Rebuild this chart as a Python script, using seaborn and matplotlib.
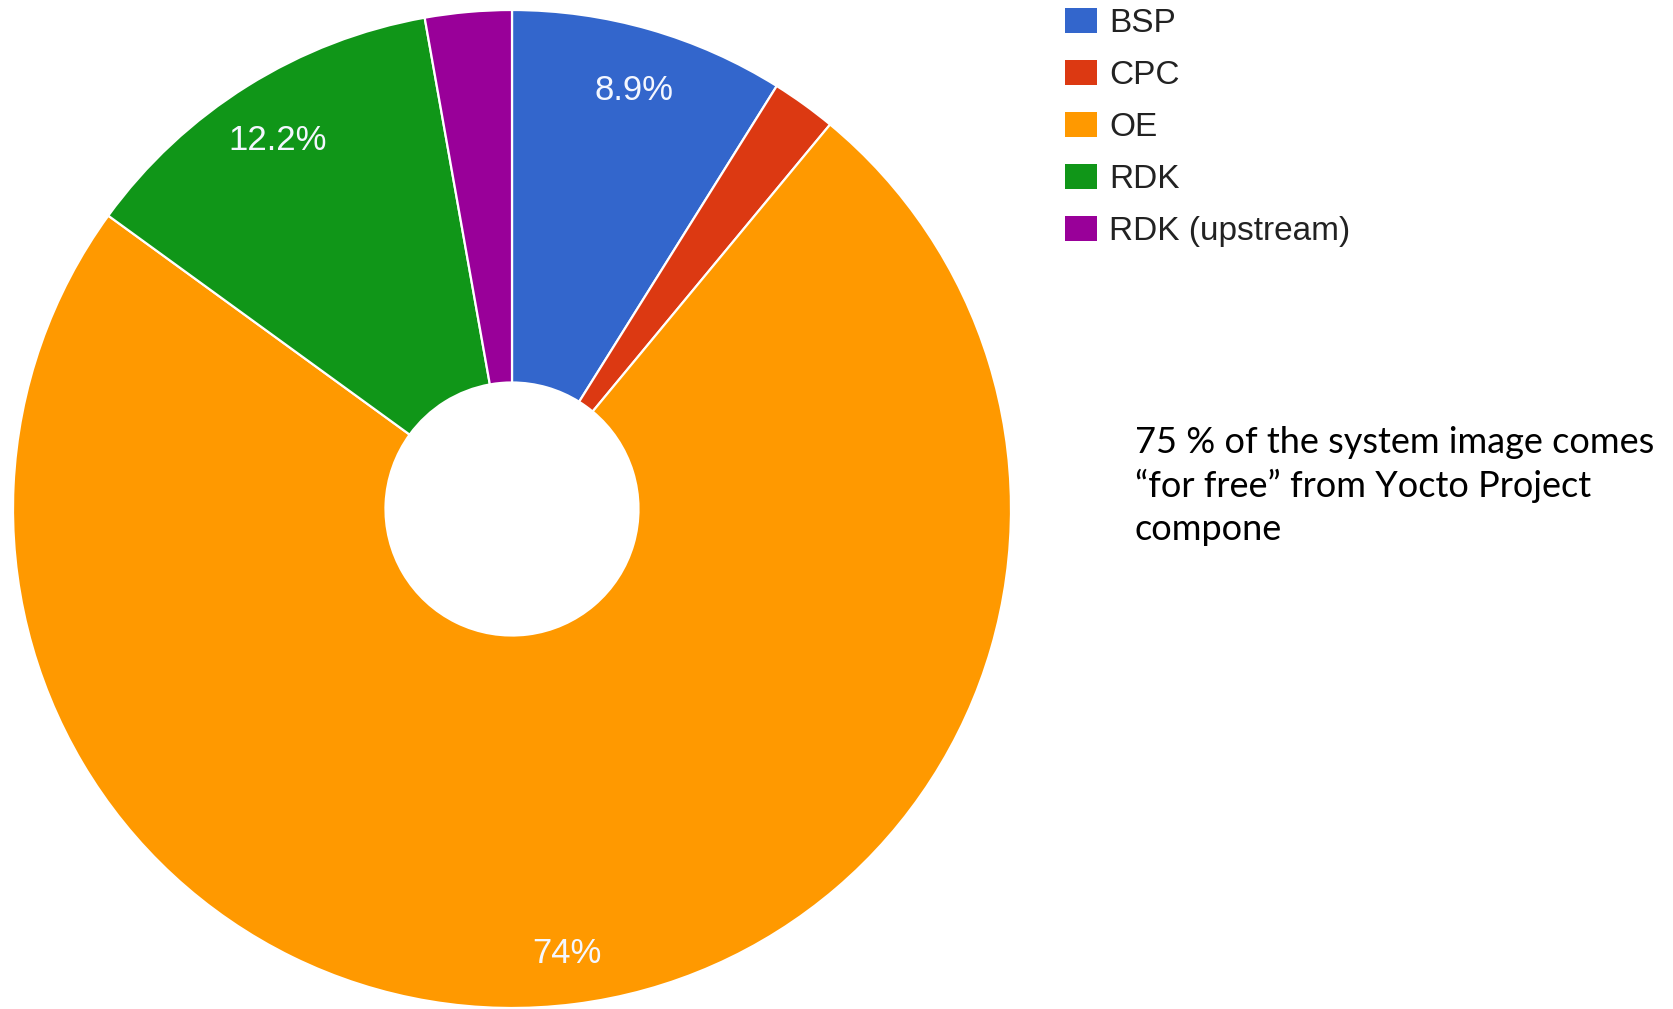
"""
Donut chart of where the system image comes from, with a short note on the right.
"""

import matplotlib
matplotlib.use("Agg")
import matplotlib.pyplot as plt
import matplotlib.patches as mpatches
import matplotlib.transforms as mtransforms
import seaborn as sns

# data
categories = ["BSP", "CPC", "OE", "RDK", "RDK (upstream)"]
shares = [8.9, 2.1, 74.0, 12.2, 2.8]
colors = ["#3366cc", "#dc3912", "#ff9900", "#109618", "#990099"]
note = "75 % of the system image comes\n\u201cfor free\u201d from Yocto Project\ncompone"

sns.set_theme(style="white")
plt.rcParams["font.family"] = ["Liberation Sans", "DejaVu Sans"]

W, H = 1674, 1009
fig = plt.figure(figsize=(W / 100, H / 100), dpi=100)

# square axes centred on the donut
cx, cy, half = 512, 509, 500
ax = fig.add_axes([(cx - half) / W, 1 - (cy + half) / H, 2 * half / W, 2 * half / H])


def pct_label(p):
    # small slices get no label
    if p < 5:
        return ""
    return f"{p:.0f}%" if abs(p - round(p)) < 0.05 else f"{p:.1f}%"


wedges, _, autotexts = ax.pie(
    shares,
    colors=colors,
    startangle=90,
    counterclock=False,
    radius=0.998,
    autopct=pct_label,
    pctdistance=0.885,
    wedgeprops=dict(width=0.745, edgecolor="white", linewidth=1.6),
    textprops=dict(color="#f4f7ff", fontsize=25),
)
# labels sit a touch lower than the slice centre in the original
shift_down = mtransforms.offset_copy(ax.transData, fig=fig, x=0, y=-6, units="dots")
for t in autotexts:
    t.set_transform(shift_down)

ax.set_xlim(-1, 1)
ax.set_ylim(-1, 1)
ax.set_aspect("equal")
ax.axis("off")

# legend at the top right
handles = [mpatches.Patch(facecolor=c, edgecolor="none") for c in colors]
fig.legend(
    handles,
    categories,
    loc="upper left",
    bbox_to_anchor=(1035 / W, 1 + 22 / H),
    frameon=False,
    fontsize=24,
    handlelength=0.95,
    handleheight=0.8,
    handletextpad=0.38,
    labelspacing=0.62,
    labelcolor="#222222",
)

# side note
fig.text(1135 / W, 1 - 426 / H, note, fontsize=26, family=["Lato", "DejaVu Sans"],
         color="black", va="top", ha="left", linespacing=1.35)

fig.savefig("out.png", dpi=100)
